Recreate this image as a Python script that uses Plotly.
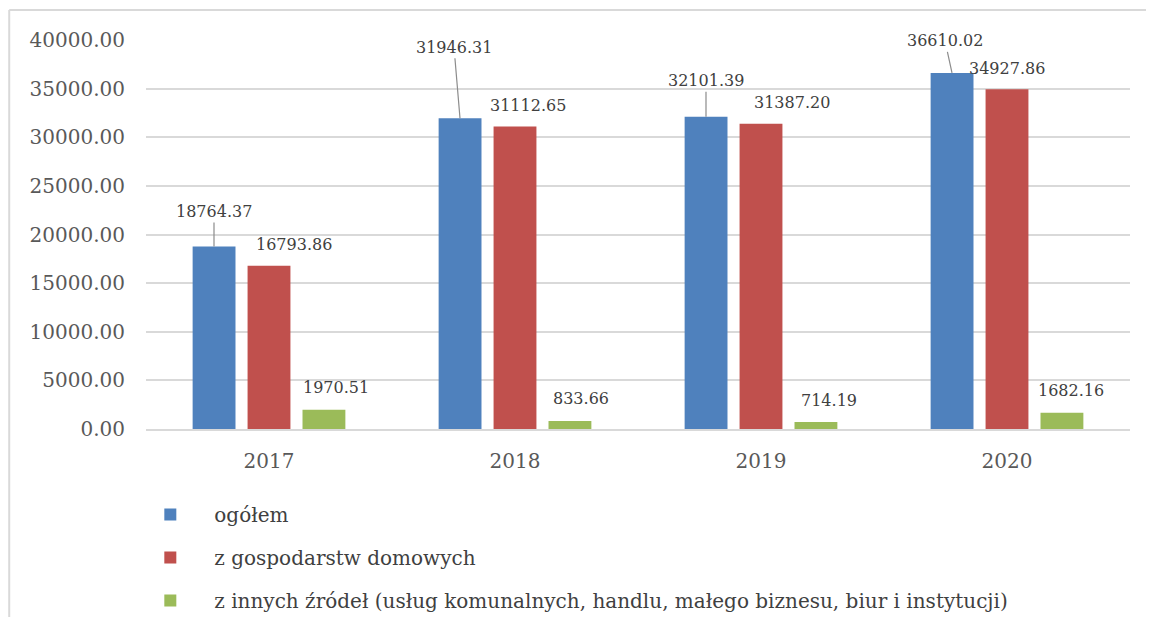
import plotly.graph_objects as go

years = ["2017", "2018", "2019", "2020"]
ogolem = [18764.37, 31946.31, 32101.39, 36610.02]
gosp = [16793.86, 31112.65, 31387.20, 34927.86]
inne = [1970.51, 833.66, 714.19, 1682.16]
names = ["ogółem", "z gospodarstw domowych",
         "z innych źródeł (usług komunalnych, handlu, małego biznesu, biur i instytucji)"]
colors = ["#4F81BD", "#C0504D", "#9BBB59"]
series = [ogolem, gosp, inne]

# label placement (pixels): bar offset within group, label shift
bar_off = [-55, 0, 55]
blue_ax = [0, -6, 0, -7]
blue_ay = [-35, -71, -36, -32]
red_dx = [25, 13, 31, 0]
green_dx = [12, 11, 13, 9]

FONT = "DejaVu Serif"
fig = go.Figure()
for i, (nm, vals, c) in enumerate(zip(names, series, colors)):
    fig.add_trace(go.Bar(x=years, y=vals, name=nm, marker_color=c,
                         marker_line_width=0, legendgroup=f"g{i}"))

ann = []
for j, y in enumerate(years):
    ann.append(dict(x=j, y=ogolem[j], xref="x", yref="y", xshift=bar_off[0],
                    text=f"{ogolem[j]:.2f}", showarrow=True, arrowhead=0,
                    arrowwidth=1.2, arrowcolor="#8c8c8c", ax=blue_ax[j], ay=blue_ay[j],
                    font=dict(family=FONT, size=16, color="#404040")))
    ann.append(dict(x=j, y=gosp[j], xref="x", yref="y", xshift=bar_off[1] + red_dx[j],
                    yshift=21, text=f"{gosp[j]:.2f}", showarrow=False,
                    font=dict(family=FONT, size=16, color="#404040")))
    ann.append(dict(x=j, y=inne[j], xref="x", yref="y", xshift=bar_off[2] + green_dx[j],
                    yshift=22, text=f"{inne[j]:.2f}", showarrow=False,
                    font=dict(family=FONT, size=16, color="#404040")))

border = dict(color="#d9d9d9", width=2)
fig.update_layout(
    width=1138, height=609,
    margin=dict(l=138, r=16, t=32, b=188, autoexpand=False),
    paper_bgcolor="white", plot_bgcolor="white",
    barmode="group", bargap=0.33, bargroupgap=0.22,
    font=dict(family=FONT, color="#595959"),
    annotations=ann,
    showlegend=True,
    legend=dict(x=-0.02, y=-0.1697, xanchor="left", yanchor="top",
                orientation="v", tracegroupgap=14, itemwidth=78,
                font=dict(family=FONT, size=20, color="#404040"),
                bgcolor="rgba(0,0,0,0)"),
    shapes=[
        dict(type="line", xref="paper", yref="paper", x0=-0.139, x1=1.2,
             y0=1.077, y1=1.077, line=border, layer="below"),
        dict(type="line", xref="paper", yref="paper", x0=-0.139, x1=-0.139,
             y0=1.077, y1=-0.8, line=border, layer="below"),
    ],
)
fig.update_yaxes(range=[0, 40000], dtick=5000, tickformat=".2f",
                 showgrid=True, gridcolor="#d9d9d9", gridwidth=1.5,
                 zeroline=False, showline=False, ticks="",
                 ticklabelstandoff=20, automargin=False,
                 tickfont=dict(family=FONT, size=20, color="#595959"))
fig.update_xaxes(type="category", range=[-0.5, 3.5], showline=True,
                 linecolor="#d9d9d9", linewidth=1.5, ticks="",
                 ticklabelstandoff=13, automargin=False,
                 tickfont=dict(family=FONT, size=20, color="#595959"))

fig.write_html("out.html")
